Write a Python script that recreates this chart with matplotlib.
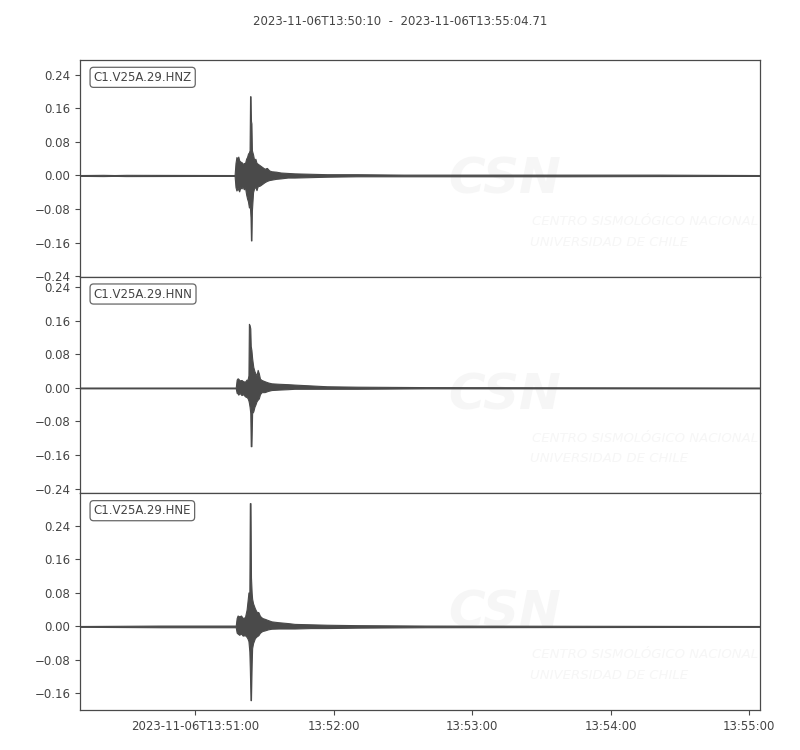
import numpy as np
import matplotlib
matplotlib.use("Agg")
import matplotlib.pyplot as plt

# ---- data (seconds relative to 13:51:00; upper / lower envelope) ----
title_text = "2023-11-06T13:50:10  -  2023-11-06T13:55:04.71"
channels = ["C1.V25A.29.HNZ", "C1.V25A.29.HNN", "C1.V25A.29.HNE"]
t_start = -50.0
t_end = 244.71
tick_secs = [0, 60, 120, 180, 240]
tick_labels = ["2023-11-06T13:51:00", "13:52:00", "13:53:00", "13:54:00", "13:55:00"]

hnz_t = [-50, -40, -35, -30, 17.0, 17.4, 17.8, 18.3, 18.6, 19.0, 19.5, 20.0, 20.5, 21.0, 21.5,
         22.0, 22.4, 22.8, 23.2, 23.5, 23.7, 23.9, 24.1, 24.3, 24.5, 25.0, 25.5, 26.0, 26.5,
         27.0, 28.0, 29.0, 30.0, 31.0, 32.0, 33.0, 35.0, 37.0, 40.0, 43.0, 50.0, 57.0, 70.0,
         90.0, 110.0, 160.0, 200.0, 244.71]
hnz_up = [0.001, 0.0015, 0.001, 0.0015, 0.001, 0.030, 0.044, 0.040, 0.045, 0.036, 0.033, 0.032,
          0.027, 0.030, 0.029, 0.040, 0.044, 0.052, 0.055, 0.060, 0.189, 0.189, 0.130, 0.124,
          0.060, 0.050, 0.036, 0.040, 0.030, 0.028, 0.024, 0.020, 0.016, 0.018, 0.012, 0.010,
          0.009, 0.007, 0.006, 0.005, 0.004, 0.003, 0.003, 0.002, 0.002, 0.002, 0.002, 0.001]
hnz_lo = [-0.001, -0.0015, -0.001, -0.0015, -0.001, -0.028, -0.036, -0.030, -0.034, -0.038,
          -0.028, -0.031, -0.026, -0.033, -0.028, -0.045, -0.055, -0.062, -0.076, -0.075,
          -0.080, -0.100, -0.155, -0.155, -0.084, -0.040, -0.030, -0.028, -0.035, -0.026,
          -0.024, -0.020, -0.016, -0.013, -0.011, -0.010, -0.008, -0.007, -0.005, -0.005,
          -0.004, -0.003, -0.002, -0.002, -0.002, -0.002, -0.0015, -0.001]

hnn_t = [-50, 17.5, 17.9, 18.3, 18.6, 19.2, 20.0, 20.7, 21.5, 22.2, 22.6, 23.0, 23.2, 23.5,
         23.8, 24.0, 24.3, 24.6, 25.1, 25.6, 26.0, 26.5, 27.0, 27.5, 28.0, 28.7, 30.0, 31.5,
         33.0, 36.0, 40.0, 43.0, 50.0, 57.0, 70.0, 100.0, 244.71]
hnn_up = [0.001, 0.001, 0.020, 0.023, 0.022, 0.018, 0.019, 0.016, 0.015, 0.020, 0.019, 0.030,
          0.153, 0.150, 0.142, 0.100, 0.090, 0.071, 0.050, 0.040, 0.035, 0.030, 0.043, 0.035,
          0.022, 0.019, 0.016, 0.013, 0.011, 0.010, 0.009, 0.008, 0.006, 0.004, 0.003, 0.002,
          0.001]
hnn_lo = [-0.001, -0.001, -0.012, -0.013, -0.016, -0.012, -0.017, -0.015, -0.020, -0.022,
          -0.024, -0.030, -0.035, -0.045, -0.060, -0.139, -0.139, -0.060, -0.056, -0.045,
          -0.040, -0.032, -0.028, -0.025, -0.015, -0.010, -0.010, -0.007, -0.005, -0.004,
          -0.003, -0.002, -0.002, -0.002, -0.002, -0.001, -0.001]

hne_t = [-50, -15, 15, 17.5, 17.9, 18.3, 19.0, 19.8, 20.5, 21.5, 22.2, 22.6, 23.0, 23.4, 23.6,
         23.9, 24.1, 24.4, 24.6, 25.0, 25.8, 26.5, 27.3, 28.0, 29.0, 30.1, 31.5, 33.0, 36.0,
         40.0, 43.0, 50.0, 57.0, 70.0, 100.0, 244.71]
hne_up = [0.001, 0.002, 0.002, 0.002, 0.020, 0.026, 0.024, 0.026, 0.020, 0.022, 0.040, 0.060,
          0.081, 0.081, 0.294, 0.294, 0.117, 0.080, 0.066, 0.055, 0.043, 0.035, 0.034, 0.025,
          0.020, 0.018, 0.015, 0.012, 0.010, 0.008, 0.006, 0.005, 0.004, 0.003, 0.002, 0.001]
hne_lo = [-0.001, -0.002, -0.002, -0.002, -0.015, -0.017, -0.020, -0.017, -0.022, -0.021,
          -0.025, -0.029, -0.035, -0.060, -0.100, -0.176, -0.176, -0.090, -0.052, -0.040,
          -0.028, -0.024, -0.021, -0.015, -0.011, -0.0095, -0.007, -0.0055, -0.005, -0.005,
          -0.005, -0.004, -0.004, -0.003, -0.002, -0.001]

traces = [(hnz_t, hnz_up, hnz_lo), (hnn_t, hnn_up, hnn_lo), (hne_t, hne_up, hne_lo)]

# ---- plotting ----
plt.rcParams['font.family'] = ['DejaVu Sans']
plt.rcParams['font.size'] = 8.5
txt_col = '#444444'
frame_col = '#4a4a4a'
trace_col = '#4a4a4a'

fig = plt.figure(figsize=(8, 7.5), dpi=100)
fig.subplots_adjust(left=0.1, right=0.95, top=0.92, bottom=0.0533, hspace=0)
axes = fig.subplots(3, 1, sharex=True)

global_range = max(max(u) - min(l) for _, u, l in traces)
half = global_range / 2 * 1.1


def yfmt(v, pos):
    s = '%.2f' % v
    if s.startswith('-'):
        s = '\u2212' + s[1:]
    if s == '\u22120.00':
        s = '0.00'
    return s


for ax, (t, up, lo), name in zip(axes, traces, channels):
    x = np.array(t) - t_start
    ax.fill_between(x, up, lo, color=trace_col, linewidth=0.8, edgecolor=trace_col, zorder=2)
    center = (max(up) + min(lo)) / 2
    ax.set_ylim(center - half, center + half)
    ax.set_xlim(0, t_end - t_start)
    ax.yaxis.set_major_locator(matplotlib.ticker.MultipleLocator(0.08))
    ax.yaxis.set_major_formatter(matplotlib.ticker.FuncFormatter(yfmt))
    for sp in ax.spines.values():
        sp.set_color(frame_col)
        sp.set_linewidth(0.9)
    ax.tick_params(colors=frame_col, labelcolor=txt_col, labelsize=8.5, length=3.5, width=0.8)
    ax.text(0.02, 0.95, name, transform=ax.transAxes, ha='left', va='top', fontsize=8.5,
            color=txt_col, zorder=5,
            bbox=dict(boxstyle='round,pad=0.3', fc='white', ec='#666666', lw=0.9))
    # faint watermark
    wm = '#f6f6f6'
    ax.text(0.625, 0.45, 'CSN', transform=ax.transAxes, ha='center', va='center',
            fontsize=36, fontweight='bold', fontstyle='italic', color=wm, zorder=0)
    ax.text(0.665, 0.255, 'CENTRO SISMOLÓGICO NACIONAL', transform=ax.transAxes, ha='left',
            va='center', fontsize=9.5, fontstyle='italic', color=wm, zorder=0)
    ax.text(0.662, 0.16, 'UNIVERSIDAD DE CHILE', transform=ax.transAxes, ha='left',
            va='center', fontsize=9.5, fontstyle='italic', color=wm, zorder=0)

axes[-1].set_xticks([s - t_start for s in tick_secs])
axes[-1].set_xticklabels(tick_labels)
for ax in axes[:-1]:
    ax.tick_params(axis='x', bottom=False, labelbottom=False)

fig.suptitle(title_text, y=0.98, fontsize=8.5, color=txt_col)
fig.savefig('out.png', dpi=100, facecolor='white')
